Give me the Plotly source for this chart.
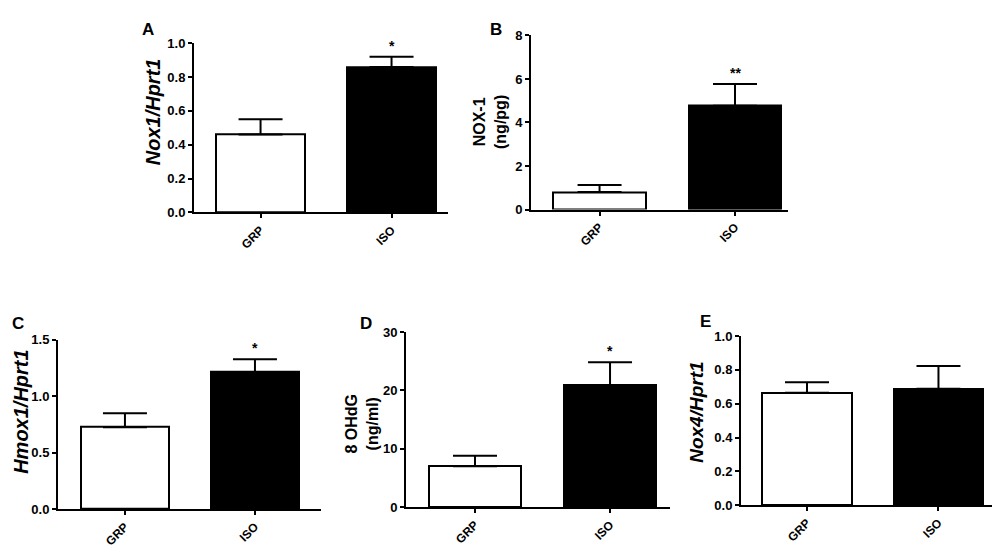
import plotly.graph_objects as go

groups = ['GRP', 'ISO']

nox1_mean = [0.46, 0.86]
nox1_sem = [0.09, 0.06]
nox1_prot_mean = [0.80, 4.77]
nox1_prot_sem = [0.33, 1.00]
hmox1_mean = [0.726, 1.214]
hmox1_sem = [0.123, 0.115]
ohdg_mean = [7.0, 20.9]
ohdg_sem = [1.8, 3.95]
nox4_mean = [0.665, 0.688]
nox4_sem = [0.061, 0.135]

stars = ['*', '**', '*', '*', '']
yranges = [[0, 1.0], [0, 8], [0, 1.5], [0, 30], [0, 1.0]]
ydticks = [0.2, 2, 0.5, 10, 0.2]
tickfmt = ['.1f', 'd', '.1f', 'd', '.1f']

# pixel boxes of each plotting area: x0, x1, ytop, ybottom, axis range
boxes = [
    (186, 440, 29, 203, [-0.508, 1.431]),
    (523, 780, 21, 200, [-0.506, 1.391]),
    (50, 313, 334, 508, [-0.515, 1.508]),
    (398, 662, 326, 506, [-0.511, 1.444]),
    (733, 997, 330, 504, [-0.502, 1.506]),
]
letters = ['A', 'B', 'C', 'D', 'E']
letter_pos = [(140, 15), (488, 15), (10, 317), (358, 317), (697, 315)]
ytitles = ['<b><i>Nox1/Hprt1</i></b>', '<b>NOX-1<br>(ng/pg)</b>', '<b><i>Hmox1/Hprt1</i></b>',
           '<b>8 OHdG<br>(ng/ml)</b>', '<b><i>Nox4/Hprt1</i></b>']
ytitle_pos = [(145, 100), (482, 110), (13, 408), (354, 420), (689, 409)]
ytitle_size = [20, 16, 20, 16, 19]

means = [nox1_mean, nox1_prot_mean, hmox1_mean, ohdg_mean, nox4_mean]
sems = [nox1_sem, nox1_prot_sem, hmox1_sem, ohdg_sem, nox4_sem]

W, H = 1000, 548
font = 'Liberation Sans, Arial, sans-serif'

fig = go.Figure()
annotations = []
for i in range(5):
    x0, x1, yt, yb, xr = boxes[i]
    n = '' if i == 0 else str(i + 1)
    fig.add_trace(go.Bar(
        x=[0, 1], y=means[i], width=0.68,
        marker=dict(color=['white', 'black'], line=dict(color='black', width=2)),
        error_y=dict(type='data', symmetric=False, array=sems[i], arrayminus=[0, 0],
                     color='black', thickness=2, width=22),
        xaxis='x' + n, yaxis='y' + n, showlegend=False,
    ))
    fig.layout['xaxis' + n] = dict(
        domain=[x0 / W, x1 / W], anchor='y' + n, range=xr,
        tickvals=[0, 1], ticktext=groups, tickangle=-45,
        showline=True, linecolor='black', linewidth=2, showgrid=False, zeroline=False,
        ticks='outside', ticklen=4, tickwidth=2, tickcolor='black',
        tickfont=dict(family=font, size=12, color='black', weight='bold'),
    )
    fig.layout['yaxis' + n] = dict(
        domain=[1 - yb / H, 1 - yt / H], anchor='x' + n, range=yranges[i],
        dtick=ydticks[i], tickformat=tickfmt[i],
        showline=True, linecolor='black', linewidth=2, showgrid=False, zeroline=False,
        ticks='outside', ticklen=4, tickwidth=2, tickcolor='black',
        tickfont=dict(family=font, size=13, color='black', weight='bold'),
    )
    if stars[i]:
        annotations.append(dict(
            x=1, y=means[i][1] + sems[i][1], xref='x' + n, yref='y' + n,
            text='<b>' + stars[i] + '</b>', showarrow=False, yanchor='bottom', yshift=1,
            font=dict(family=font, size=14, color='black'),
        ))
    lx, ly = letter_pos[i]
    annotations.append(dict(
        x=lx / W, y=1 - ly / H, xref='paper', yref='paper', text='<b>' + letters[i] + '</b>',
        showarrow=False, xanchor='center', yanchor='middle',
        font=dict(family=font, size=17, color='black'),
    ))
    tx, ty = ytitle_pos[i]
    annotations.append(dict(
        x=tx / W, y=1 - ty / H, xref='paper', yref='paper', text=ytitles[i],
        showarrow=False, xanchor='center', yanchor='middle', textangle=-90,
        font=dict(family=font, size=ytitle_size[i], color='black'),
    ))

fig.update_layout(
    width=W, height=H, margin=dict(l=0, r=0, t=0, b=0),
    paper_bgcolor='white', plot_bgcolor='white',
    annotations=annotations, bargap=0,
)
fig.write_html('out.html')
